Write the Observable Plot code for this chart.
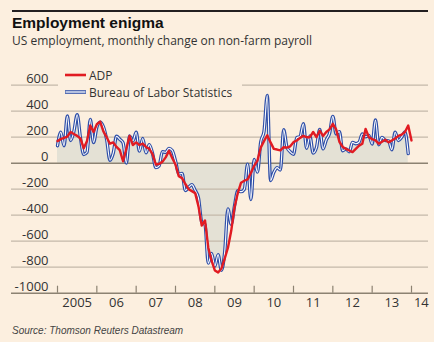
<!DOCTYPE html>
<html>
<head>
<meta charset="utf-8">
<script src="https://cdn.jsdelivr.net/npm/d3@7"></script>
<script src="https://cdn.jsdelivr.net/npm/@observablehq/plot@0.6"></script>
<style>
  body { margin: 0; background: #fcefdf; }
  #wrap { position: relative; width: 434px; height: 342px; overflow: hidden; background: #fcefdf; font-family: "Open Sans", sans-serif; }
  #topRule { position: absolute; left: 12px; top: 10px; width: 416px; height: 2px; background: #231f20; }
  #title { position: absolute; left: 12px; top: 14px; font: bold 15.5px "Liberation Sans", sans-serif; color: #111; line-height: 18px; white-space: nowrap; }
  #subtitle { position: absolute; left: 12px; top: 32px; font-size: 12px; color: #333; line-height: 17px; white-space: nowrap; }
  #chart { position: absolute; left: 0; top: 0; }
  #legend { position: absolute; left: 58px; top: 66px; width: 184px; height: 34px; background: #fcefdf; }
  .item { position: absolute; left: 7px; height: 16px; display: flex; align-items: center; font-size: 12px; color: #333; white-space: nowrap; }
  .item svg { margin-right: 3px; }
  #source { position: absolute; left: 12px; top: 324px; font: italic 10px "Liberation Sans", sans-serif; color: #444; line-height: 13px; white-space: nowrap; }
</style>
</head>
<body>
<div id="wrap">
  <div id="topRule"></div>
  <div id="title"></div>
  <div id="subtitle"></div>
  <div id="chart"></div>
  <div id="legend"></div>
  <div id="source"></div>
</div>
<script>
const titleText = "Employment enigma";
const subtitleText = "US employment, monthly change on non-farm payroll";
const sourceText = "Source: Thomson Reuters Datastream";
const seriesNames = ["ADP", "Bureau of Labor Statistics"];
const seriesColors = ["#e11b22", "#2f4fa8"];

const startYear = 2005;
// Monthly change, thousands — Bureau of Labor Statistics, Jan 2005 – Dec 2013
const blsValues = [
  134, 239, 134, 363, 175, 245, 373, 196, 67, 84, 337, 159,
  277, 315, 280, 182, 23, 77, 207, 184, 157, 2, 210, 171,
  238, 93, 190, 80, 143, 75, -34, -20, 88, 84, 114, 98,
  17, -84, -78, -210, -185, -165, -209, -266, -452, -473, -769, -695,
  -791, -703, -823, -686, -351, -470, -329, -212, -219, -200, -7, -279,
  28, -69, 163, 243, 522, -133, -70, -34, -52, 257, 123, 88,
  69, 196, 205, 304, 115, 209, 78, 120, 260, 110, 180, 230,
  360, 226, 243, 96, 110, 88, 160, 150, 161, 225, 203, 214,
  148, 332, 142, 199, 176, 172, 104, 238, 175, 200, 241, 74
];
// Monthly change, thousands — ADP, Jan 2005 – Jan 2014
const adpValues = [
  170, 185, 195, 205, 240, 225, 210, 190, 115, 170, 290, 240,
  300, 320, 245, 200, 150, 160, 125, 100, 15, 110, 210, 140,
  160, 140, 150, 125, 110, 70, -10, -5, 10, 45, 95, 40,
  -10, -100, -115, -160, -200, -215, -230, -330, -480, -440, -650, -750,
  -825, -840, -810, -735, -650, -520, -340, -230, -150, -135, -125, -75,
  -20, 20, 120, 170, 215, 160, 110, 105, 98, 123, 120, 130,
  162, 175, 195, 210, 200, 200, 240, 200, 250, 210, 240, 260,
  303, 260, 165, 125, 110, 98, 85, 110, 135, 150, 264, 200,
  185, 175, 150, 165, 180, 160, 175, 190, 210, 220, 240, 290,
  175
];
const yTicks = [600, 400, 200, 0, -200, -400, -600, -800, -1000];
const tickYears = [2005, 2006, 2007, 2008, 2009, 2010, 2011, 2012, 2013, 2014];
const yearLabels = ["2005", "06", "07", "08", "09", "10", "11", "12", "13", "14"];

document.getElementById("title").textContent = titleText;
document.getElementById("subtitle").textContent = subtitleText;
document.getElementById("source").textContent = sourceText;

// legend
const legend = document.getElementById("legend");
seriesNames.forEach((name, i) => {
  const item = document.createElement("div");
  item.className = "item";
  item.style.top = (i === 0 ? 1 : 18) + "px";
  const sw = i === 0
    ? `<svg width="21" height="8"><line x1="0" y1="4" x2="21" y2="4" stroke="${seriesColors[0]}" stroke-width="2.6"/></svg>`
    : `<svg width="21" height="8"><line x1="0" y1="4" x2="21" y2="4" stroke="${seriesColors[1]}" stroke-width="3.6"/><line x1="0.5" y1="4" x2="20.5" y2="4" stroke="#fff" stroke-width="1.3"/></svg>`;
  item.innerHTML = sw + "<span></span>";
  item.querySelector("span").textContent = name;
  legend.appendChild(item);
});

const bls = blsValues.map((v, i) => ({date: startYear + i / 12, value: v}));
const adp = adpValues.map((v, i) => ({date: startYear + i / 12, value: v}));
const domainEnd = tickYears[tickYears.length - 1];
const labelData = tickYears.map((y, i) => ({pos: Math.min(y + 0.5, domainEnd + 0.25), text: yearLabels[i]}));
const fmt = d => d < 0 ? "-" + Math.abs(d) : String(d);

const chart = Plot.plot({
  width: 434,
  height: 342,
  marginLeft: 11,
  marginRight: 6,
  marginTop: 84.7,
  marginBottom: 49.3,
  style: {background: "transparent", fontFamily: "Open Sans, sans-serif", fontSize: "13px", color: "#333", overflow: "visible"},
  x: {domain: [tickYears[0], domainEnd], range: [57, 411], axis: null},
  y: {domain: [-1000, 600], axis: null},
  marks: [
    Plot.areaY(bls, {x: "date", y: "value", fill: "#e4e1d5", curve: "monotone-x"}),
    Plot.ruleY(yTicks.filter(d => d !== 0 && d !== -1000), {stroke: "#c4b9aa", strokeWidth: 1.3}),
    Plot.ruleY([0, -1000], {stroke: "#8c8272", strokeWidth: 1.6}),
    Plot.axisX(tickYears, {tickSize: -7, tickFormat: () => "", label: null, stroke: "#8c8272", strokeWidth: 1.2}),
    Plot.lineY(bls, {x: "date", y: "value", stroke: seriesColors[1], strokeWidth: 3.4, curve: "monotone-x"}),
    Plot.lineY(bls, {x: "date", y: "value", stroke: "#ffffff", strokeWidth: 1.1, curve: "monotone-x"}),
    Plot.lineY(adp, {x: "date", y: "value", stroke: seriesColors[0], strokeWidth: 2.4}),
    Plot.text(yTicks, {y: d => d, text: fmt, frameAnchor: "left", dx: 37, textAnchor: "end", lineAnchor: "bottom", dy: -2, fill: "#333", fontSize: 13}),
    Plot.text(labelData, {x: "pos", text: "text", frameAnchor: "bottom", dy: 10, lineAnchor: "middle", fill: "#333", fontSize: 13})
  ]
});
document.getElementById("chart").appendChild(chart);
</script>
</body>
</html>
